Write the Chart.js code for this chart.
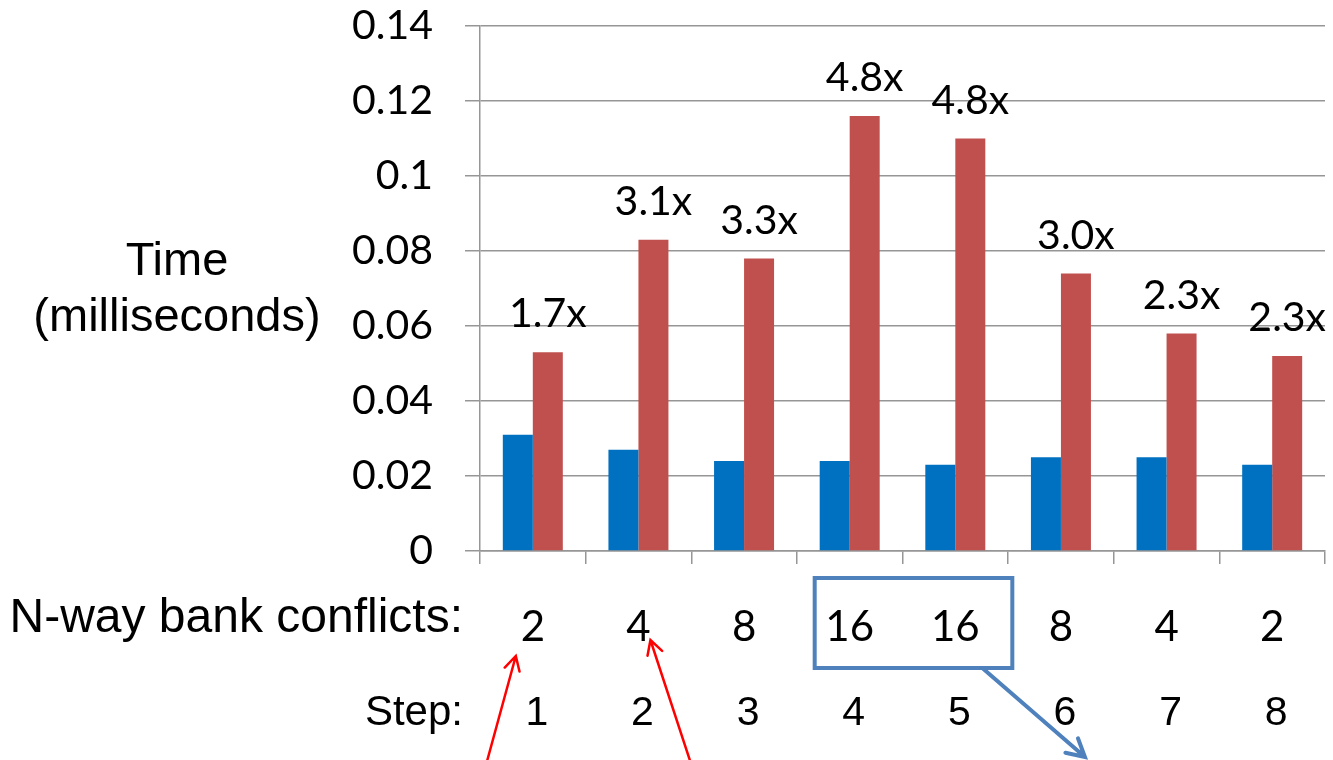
<!DOCTYPE html>
<html>
<head>
<meta charset="utf-8">
<script src="https://cdn.jsdelivr.net/npm/chart.js@4.4.1/dist/chart.umd.min.js"></script>
<style>
  body { margin: 0; background: #fff; }
  #wrap { width: 1333px; height: 760px; }
</style>
</head>
<body>
<div id="wrap"><canvas id="chart" width="1333" height="760"></canvas></div>
<script>
// values
const conflicts = ['2', '4', '8', '16', '16', '8', '4', '2'];
const steps = ['1', '2', '3', '4', '5', '6', '7', '8'];
const fastTimes = [0.031, 0.027, 0.024, 0.024, 0.023, 0.025, 0.025, 0.023];
const slowTimes = [0.053, 0.083, 0.078, 0.116, 0.110, 0.074, 0.058, 0.052];
const speedups = ['1.7x', '3.1x', '3.3x', '4.8x', '4.8x', '3.0x', '2.3x', '2.3x'];
const yMin = 0, yMax = 0.14, yStep = 0.02;

const calibri = 'Lato, "Open Sans", sans-serif';
const arial = '"Liberation Sans", Arial, sans-serif';

function arrow(ctx, x1, y1, x2, y2, head, color, width) {
    ctx.save();
    ctx.strokeStyle = color;
    ctx.lineWidth = width;
    ctx.lineCap = 'round';
    ctx.beginPath();
    ctx.moveTo(x1, y1);
    ctx.lineTo(x2, y2);
    var a = Math.atan2(y2 - y1, x2 - x1);
    ctx.moveTo(x2 - head * Math.cos(a - 0.5), y2 - head * Math.sin(a - 0.5));
    ctx.lineTo(x2, y2);
    ctx.lineTo(x2 - head * Math.cos(a + 0.5), y2 - head * Math.sin(a + 0.5));
    ctx.stroke();
    ctx.restore();
}

const extras = {
    id: 'extras',
    afterDatasetsDraw(chart) {
        const ctx = chart.ctx;
        const meta = chart.getDatasetMeta(1);
        ctx.save();
        ctx.font = '41px ' + calibri;
        ctx.fillStyle = '#000';
        ctx.textAlign = 'center';
        ctx.textBaseline = 'alphabetic';
        meta.data.forEach((bar, i) => {
            ctx.fillText(speedups[i], bar.x, bar.y - 25);
        });
        ctx.restore();
    },
    afterDraw(chart) {
        const ctx = chart.ctx;
        const xs = chart.scales.x;
        const base = chart.chartArea.bottom;
        ctx.save();
        ctx.fillStyle = '#000';
        ctx.textBaseline = 'alphabetic';

        // y axis title, written flat
        ctx.font = '47px ' + arial;
        ctx.textAlign = 'center';
        ctx.fillText('Time', 177, 275);
        ctx.fillText('(milliseconds)', 177, 331);

        // row headings
        ctx.textAlign = 'right';
        ctx.font = '48px ' + arial;
        ctx.fillText('N-way bank conflicts:', 463, base + 81);
        ctx.font = '42px ' + arial;
        ctx.fillText('Step:', 463, base + 174);

        ctx.font = '41px ' + arial;
        ctx.textAlign = 'center';
        steps.forEach((s, i) => {
            ctx.fillText(s, xs.getPixelForValue(i) + 4, base + 174);
        });
        ctx.restore();

        // box round the two 16-way steps
        const bx1 = xs.getPixelForValue(3) - 35;
        const bx2 = xs.getPixelForValue(4) + 57;
        ctx.save();
        ctx.strokeStyle = '#4F81BD';
        ctx.lineWidth = 4;
        ctx.strokeRect(bx1, base + 27, bx2 - bx1, 90);
        ctx.restore();
        arrow(ctx, bx2 - 30, base + 117, xs.getPixelForValue(5) + 24, base + 206, 20, '#4F81BD', 4);

        // red pointers
        arrow(ctx, xs.getPixelForValue(0) - 46, 762, xs.getPixelForValue(0) - 17, base + 105, 16, '#FF0000', 2.5);
        arrow(ctx, xs.getPixelForValue(1) + 52, 762, xs.getPixelForValue(1) + 12, base + 89, 16, '#FF0000', 2.5);
    }
};

new Chart(document.getElementById('chart'), {
    type: 'bar',
    data: {
        labels: conflicts,
        datasets: [{
            data: fastTimes,
            backgroundColor: '#0070C0',
            categoryPercentage: 0.568,
            barPercentage: 1
        }, {
            data: slowTimes,
            backgroundColor: '#C0504D',
            categoryPercentage: 0.568,
            barPercentage: 1
        }]
    },
    options: {
        responsive: false,
        animation: false,
        layout: { padding: { top: 26, right: 8, left: 0, bottom: 0 } },
        plugins: { legend: { display: false }, tooltip: { enabled: false } },
        scales: {
            x: {
                afterFit: s => { s.height = 209; s.paddingLeft = 0; s.paddingRight = 0; },
                grid: { offset: true, drawOnChartArea: false, drawTicks: true, tickLength: 13, color: '#969696', lineWidth: 1.5 },
                border: { color: '#969696', width: 1.5 },
                ticks: { font: { family: calibri, size: 42 }, color: '#000', padding: 38, maxRotation: 0, autoSkip: false }
            },
            y: {
                min: yMin,
                max: yMax,
                afterFit: s => { s.width = 480; s.paddingTop = 0; s.paddingBottom = 0; },
                grid: { tickLength: 15, color: '#969696', lineWidth: 1.5 },
                border: { color: '#969696', width: 1.5 },
                ticks: {
                    stepSize: yStep,
                    font: { family: calibri, size: 41 },
                    color: '#000',
                    padding: 32,
                    callback: v => String(Number(v.toFixed(2)))
                }
            }
        }
    },
    plugins: [extras]
});
</script>
</body>
</html>
